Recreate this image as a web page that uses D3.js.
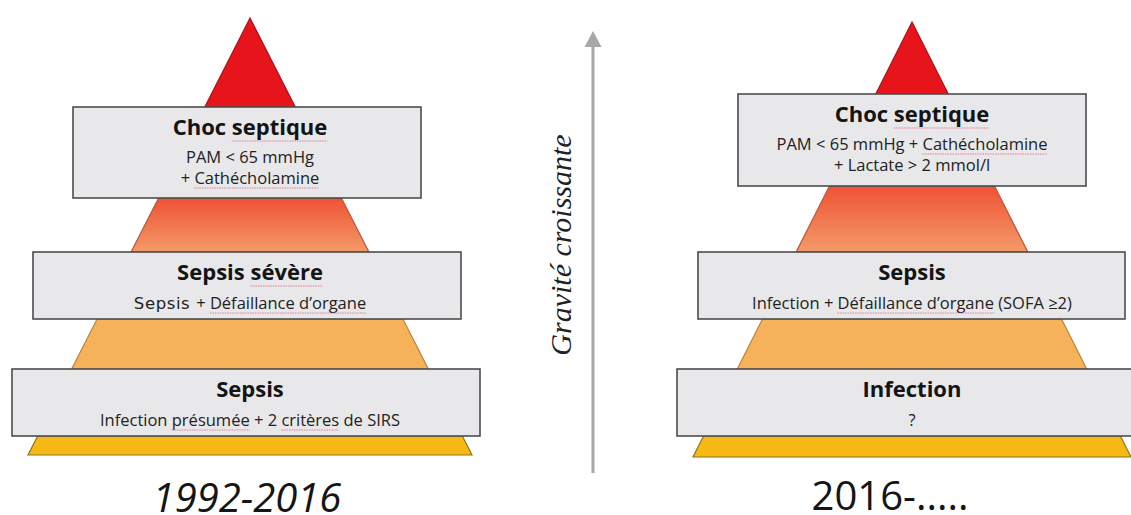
<!DOCTYPE html>
<html>
<head>
<meta charset="utf-8">
<script src="https://cdn.jsdelivr.net/npm/d3@7"></script>
<style>
  body { margin: 0; background: #fff; }
  svg { display: block; }
</style>
</head>
<body>
<script>
const width = 1131
const height = 515

// contenu des deux pyramides (du haut vers le bas)
const years = ["1992-2016", "2016-....."]
const titles1992 = ["Choc septique", "Sepsis sévère", "Sepsis"]
const details1992 = [["PAM < 65 mmHg", "+ Cathécholamine"], ["Sepsis + Défaillance d’organe"], ["Infection présumée + 2 critères de SIRS"]]
const titles2016 = ["Choc septique", "Sepsis", "Infection"]
const details2016 = [["PAM < 65 mmHg + Cathécholamine", "+ Lactate > 2 mmol/l"], ["Infection + Défaillance d’organe (SOFA ≥2)"], ["?"]]
const axisLabel = "Gravité croissante"
// mots soulignés par le correcteur dans l'original
const spellMarked = ["septique", "Cathécholamine", "sévère", "Défaillance d’organe", "présumée", "critères"]
const bandColors = ["#e8141c", "url(#grad)", "#f6b25a", "#f6b916"]
const bandStrokes = ["#a8141a", "#b5583a", "#b9853e", "#8e7418"]

// mise en page
const panels = [
  {cx: 250, apex: 18, base: 455, half: 222, year: years[0], italic: true, yearX: 247, yearY: 512,
   titles: titles1992, details: details1992,
   boxes: [[73, 421, 107, 198], [33, 461, 252, 319], [12, 480, 369, 436]]},
  {cx: 912, apex: 22, base: 457, half: 219, year: years[1], italic: false, yearX: 890, yearY: 510,
   titles: titles2016, details: details2016,
   boxes: [[738, 1086, 94, 186], [698, 1125, 252, 319], [677, 1145, 369, 436]]}
]

const svg = d3.select("body").append("svg")
  .attr("width", width)
  .attr("height", height)

const defs = svg.append("defs")
const grad = defs.append("linearGradient")
  .attr("id", "grad")
  .attr("x1", 0).attr("y1", 0).attr("x2", 0).attr("y2", 1)
grad.append("stop").attr("offset", "0%").attr("stop-color", "#ee5234")
grad.append("stop").attr("offset", "100%").attr("stop-color", "#f49a68")

const line = d3.line()

// souligne en pointillé rouge les mots "fautifs" d'un texte déjà posé
function markSpelling(textSel, dy) {
  const node = textSel.node()
  const s = node.textContent
  spellMarked.forEach(w => {
    const i = s.indexOf(w)
    if (i < 0) return
    const x0 = node.getStartPositionOfChar(i).x
    const x1 = node.getEndPositionOfChar(i + w.length - 1).x
    const y = +textSel.attr("y") + dy
    textSel.select(function() { return this.parentNode }).append("line")
      .attr("x1", x0).attr("x2", x1)
      .attr("y1", y).attr("y2", y)
      .attr("stroke", "#e0607a")
      .attr("stroke-width", 1)
      .attr("stroke-dasharray", "1.5,1")
      .attr("opacity", 0.8)
  })
}

panels.forEach(p => {
  const g = svg.append("g")
  const hw = d3.scaleLinear().domain([p.apex, p.base]).range([0, p.half])

  // bandes : du sommet au bas de la 1re boîte, puis entre les boîtes
  const b = p.boxes
  const bands = [
    [p.apex, b[0][3]],
    [b[0][3], b[1][2]],
    [b[1][3], b[2][2]],
    [b[2][3], p.base]
  ]
  g.selectAll(".band")
    .data(bands)
    .enter().append("path")
    .attr("class", "band")
    .attr("d", ([y0, y1]) => line([
      [p.cx - hw(y0), y0], [p.cx + hw(y0), y0],
      [p.cx + hw(y1), y1], [p.cx - hw(y1), y1]
    ]) + "Z")
    .attr("fill", (d, i) => bandColors[i])
    .attr("stroke", (d, i) => bandStrokes[i])
    .attr("stroke-width", 1.2)

  const boxes = g.selectAll(".box")
    .data(b)
    .enter().append("g")
    .attr("class", "box")

  boxes.append("rect")
    .attr("x", d => d[0])
    .attr("y", d => d[2])
    .attr("width", d => d[1] - d[0])
    .attr("height", d => d[3] - d[2])
    .attr("fill", "#e8e8ea")
    .attr("stroke", "#4d4d4d")
    .attr("stroke-width", 1.6)

  boxes.each(function(d, i) {
    const box = d3.select(this)
    const title = box.append("text")
      .attr("x", p.cx)
      .attr("y", d[2] + 28)
      .attr("text-anchor", "middle")
      .attr("font-family", "'Open Sans', sans-serif")
      .attr("font-weight", "bold")
      .attr("font-size", 22)
      .attr("fill", "#141414")
      .text(p.titles[i])
    markSpelling(title, 6)

    const lines = p.details[i]
    lines.forEach((s, k) => {
      const t = box.append("text")
        .attr("x", p.cx)
        .attr("y", d[2] + (lines.length > 1 ? 56 : 57) + k * 21)
        .attr("text-anchor", "middle")
        .attr("font-family", "'Open Sans', sans-serif")
        .attr("font-size", 16.5)
        .attr("fill", "#222")
      // "Sepsis" est écrit dans une autre police dans l'original
      if (s.startsWith("Sepsis +")) {
        t.append("tspan").attr("font-family", "'DejaVu Sans', sans-serif").attr("letter-spacing", 0.6).text("Sepsis ")
        t.append("tspan").text(s.slice(7))
      } else {
        t.text(s)
      }
      markSpelling(t, 4)
    })
  })

  svg.append("text")
    .attr("x", p.yearX)
    .attr("y", p.yearY)
    .attr("text-anchor", "middle")
    .attr("font-family", "'Open Sans', sans-serif")
    .attr("font-style", p.italic ? "italic" : "normal")
    .attr("font-size", 40)
    .attr("fill", "#151515")
    .text(p.year)
})

// flèche centrale
const ax = 593
svg.append("line")
  .attr("x1", ax).attr("x2", ax)
  .attr("y1", 473).attr("y2", 44)
  .attr("stroke", "#a8a8a8")
  .attr("stroke-width", 3)
svg.append("path")
  .attr("d", line([[ax, 31], [ax + 8.5, 47], [ax - 8.5, 47]]) + "Z")
  .attr("fill", "#a8a8a8")

svg.append("text")
  .attr("transform", "translate(571,245) rotate(-90)")
  .attr("text-anchor", "middle")
  .attr("font-family", "'Liberation Serif', serif")
  .attr("font-style", "italic")
  .attr("font-size", 30)
  .attr("fill", "#222")
  .text(axisLabel)
</script>
</body>
</html>
